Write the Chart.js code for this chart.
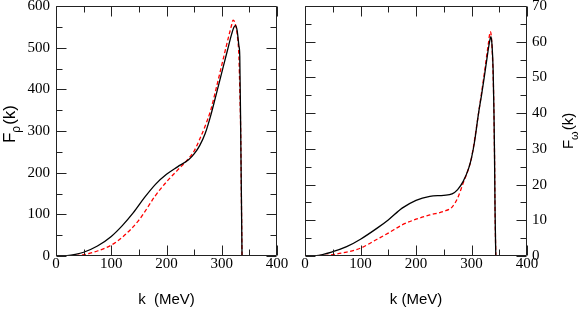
<!DOCTYPE html>
<html>
<head>
<meta charset="utf-8">
<script src="https://cdn.jsdelivr.net/npm/chart.js@4"></script>
<style>
  html, body { margin: 0; padding: 0; background: #fff; }
  #wrap { position: relative; width: 581px; height: 310px; overflow: hidden; }
  #cL { position: absolute; left: 0; top: 0; }
  #cR { position: absolute; left: 290px; top: 0; }
</style>
</head>
<body>
<div id="wrap">
  <canvas id="cL" width="290" height="310"></canvas>
  <canvas id="cR" width="291" height="310"></canvas>
</div>
<script>
// ---------- data ----------
const kRhoSolid   = [0, 20, 35, 50, 75, 100, 120, 140, 160, 180, 200, 220, 240, 250, 260, 270, 280, 290, 300, 310, 318, 322, 325, 328, 331, 332.6, 334.4, 335.5, 336.7];
const rhoSolid    = [0, 1, 4, 9, 24, 47, 73, 104, 140, 172, 196, 214, 231, 245, 265, 294, 337, 388, 440, 492, 533, 549, 553, 540, 505, 480, 288, 150, 0];

const kRhoDashed  = [0, 20, 35, 50, 75, 100, 120, 150, 180, 200, 220, 240, 250, 260, 270, 280, 290, 300, 309, 315, 318, 320.5, 323, 326, 329, 331, 333, 334.4, 335.5, 336.7];
const rhoDashed   = [0, 0.3, 1.2, 3, 12, 26, 45, 86, 145, 178, 206, 234, 252, 280, 312, 350, 403, 458, 508, 540, 555, 566, 563, 548, 520, 480, 380, 288, 150, 0];

const kOmegaSolid  = [0, 20, 50, 75, 100, 130, 150, 175, 200, 225, 250, 265, 275, 285, 295, 300, 305, 313, 318, 323, 328, 332, 335, 337, 339, 340.5, 341.5, 342.5, 343.8];
const omegaSolid   = [0, 0.1, 1.2, 2.6, 4.7, 7.8, 10.1, 13.4, 15.6, 16.7, 17.0, 17.4, 18.6, 20.9, 24.6, 27.5, 31.5, 40.3, 45, 50.1, 55.5, 59.5, 61.4, 59, 52, 40, 28, 12, 0];

const kOmegaDashed = [0, 20, 50, 75, 100, 130, 150, 175, 200, 225, 250, 265, 275, 285, 295, 300, 313, 323, 330, 334, 336, 338, 340, 341.5, 342.5, 343.8];
const omegaDashed  = [0, 0.05, 0.4, 1.1, 2.2, 4.7, 6.4, 8.7, 10.3, 11.5, 12.5, 13.7, 16.2, 20.4, 24.6, 27.5, 40.3, 51, 59, 62.8, 61, 55, 44, 28, 12, 0];

const kTicks     = [0, 100, 200, 300, 400];
const rhoTicks   = [0, 100, 200, 300, 400, 500, 600];
const omegaTicks = [0, 10, 20, 30, 40, 50, 60, 70];

const xTitleLeft  = 'k  (MeV)';
const xTitleRight = 'k (MeV)';
const yTitleLeft  = ['F', 'ρ', '(k)'];
const yTitleRight = ['F', 'ω', '(k)'];

// ---------- helpers ----------
const pts = (xs, ys) => xs.map((x, i) => ({x: x, y: ys[i]}));
const mids = (arr) => arr.slice(0, -1).map((v, i) => (v + arr[i + 1]) / 2);

const tickFont  = {family: '"Liberation Serif", "Times New Roman", serif', size: 15, lineHeight: 1};
const titleFont = {family: '"Liberation Sans", Arial, sans-serif', size: 15};

const frameTicks = {
  id: 'frameTicks',
  afterDatasetsDraw(chart, args, opts) {
    const {ctx, chartArea: a} = chart;
    const xs = chart.scales.x, ys = chart.scales.y;
    ctx.save();
    ctx.strokeStyle = '#222';
    ctx.lineWidth = 1;
    ctx.beginPath();
    const L = Math.round(a.left) + 0.5, R = Math.round(a.right) - 0.5;
    const T = Math.round(a.top) + 0.5, B = Math.round(a.bottom) - 0.5;
    ctx.rect(L, T, R - L, B - T);
    const big = 10, small = 6;
    const xm = opts.xMajor, xn = mids(opts.xMajor);
    const ym = opts.yMajor, yn = mids(opts.yMajor);
    xm.forEach(v => { const p = Math.round(xs.getPixelForValue(v)) + 0.5;
      ctx.moveTo(p, B); ctx.lineTo(p, B - big); ctx.moveTo(p, T); ctx.lineTo(p, T + big); });
    xn.forEach(v => { const p = Math.round(xs.getPixelForValue(v)) + 0.5;
      ctx.moveTo(p, B); ctx.lineTo(p, B - small); ctx.moveTo(p, T); ctx.lineTo(p, T + small); });
    ym.forEach(v => { const p = Math.round(ys.getPixelForValue(v)) + 0.5;
      ctx.moveTo(L, p); ctx.lineTo(L + big, p); ctx.moveTo(R, p); ctx.lineTo(R - big, p); });
    yn.forEach(v => { const p = Math.round(ys.getPixelForValue(v)) + 0.5;
      ctx.moveTo(L, p); ctx.lineTo(L + small, p); ctx.moveTo(R, p); ctx.lineTo(R - small, p); });
    ctx.stroke();

    // y-axis title with subscript
    const [main, sub, tail] = opts.yTitle;
    const size = opts.yTitleSize;
    const cx = opts.yTitleSide === 'left' ? a.left - opts.yTitleOffset : a.right + opts.yTitleOffset;
    const cy = (a.top + a.bottom) / 2 + opts.yTitleShift;
    const big1 = `${size}px "Liberation Sans", Arial, sans-serif`;
    const sm1 = `${Math.round(size * 0.72)}px "Liberation Sans", Arial, sans-serif`;
    ctx.font = big1; const w1 = ctx.measureText(main).width;
    ctx.font = sm1;  const w2 = ctx.measureText(sub).width;
    ctx.font = big1; const w3 = ctx.measureText(tail).width;
    const total = w1 + w2 + w3 + 1;
    ctx.translate(cx, cy);
    ctx.rotate(-Math.PI / 2);
    ctx.fillStyle = '#000';
    ctx.textBaseline = 'alphabetic';
    ctx.textAlign = 'left';
    const b = size * 0.36;
    let x0 = -total / 2;
    ctx.font = big1; ctx.fillText(main, x0, b); x0 += w1;
    ctx.font = sm1;  ctx.fillText(sub, x0, b + size * 0.28); x0 += w2 + 1;
    ctx.font = big1; ctx.fillText(tail, x0, b);
    ctx.restore();
  }
};

function makeChart(id, cfg) {
  const isLeft = cfg.side === 'left';
  return new Chart(document.getElementById(id), {
    type: 'line',
    data: {
      datasets: [
        { data: pts(cfg.kSolid, cfg.solid), borderColor: '#000', borderWidth: 1.3,
          pointRadius: 0, fill: false, cubicInterpolationMode: 'monotone' },
        { data: pts(cfg.kDashed, cfg.dashed), borderColor: '#ff0000', borderWidth: 1.3,
          borderDash: [4, 2.5], pointRadius: 0, fill: false, cubicInterpolationMode: 'monotone' }
      ]
    },
    options: {
      responsive: false,
      animation: false,
      devicePixelRatio: 1,
      layout: { padding: isLeft ? {left: 0, right: 13, top: 6, bottom: 0} : {left: 15, right: 0, top: 6, bottom: 0} },
      plugins: {
        legend: { display: false },
        tooltip: { enabled: false },
        frameTicks: {
          xMajor: kTicks, yMajor: cfg.yTicks, yTitle: cfg.yTitle, yTitleSide: cfg.side,
          yTitleSize: cfg.yTitleSize, yTitleOffset: cfg.yTitleOffset, yTitleShift: cfg.yTitleShift
        }
      },
      scales: {
        x: {
          type: 'linear', position: 'bottom',
          min: kTicks[0], max: kTicks[kTicks.length - 1],
          grid: { display: false, drawTicks: false },
          border: { display: false },
          afterBuildTicks: (s) => { s.ticks = kTicks.map(v => ({value: v})); },
          ticks: { font: tickFont, color: '#000', padding: 1, maxRotation: 0,
                   callback: (v) => String(v) },
          title: { display: true, text: cfg.xTitle, font: titleFont, color: '#000',
                   padding: {top: 0, bottom: 1} },
          afterFit: (s) => { s.height = 54; s.paddingLeft = 0; s.paddingRight = 0; }
        },
        y: {
          type: 'linear', position: isLeft ? 'left' : 'right',
          min: cfg.yTicks[0], max: cfg.yTicks[cfg.yTicks.length - 1],
          grid: { display: false, drawTicks: false },
          border: { display: false },
          afterBuildTicks: (s) => { s.ticks = cfg.yTicks.map(v => ({value: v})); },
          ticks: { font: tickFont, color: '#000', padding: isLeft ? 6 : 5,
                   callback: (v) => String(v) },
          afterFit: (s) => { s.width = isLeft ? 56 : 54; s.paddingTop = 0; s.paddingBottom = 0; }
        }
      }
    },
    plugins: [frameTicks]
  });
}

makeChart('cL', {
  side: 'left', kSolid: kRhoSolid, solid: rhoSolid, kDashed: kRhoDashed, dashed: rhoDashed,
  yTicks: rhoTicks, xTitle: xTitleLeft, yTitle: yTitleLeft,
  yTitleSize: 17, yTitleOffset: 47, yTitleShift: -7
});
makeChart('cR', {
  side: 'right', kSolid: kOmegaSolid, solid: omegaSolid, kDashed: kOmegaDashed, dashed: omegaDashed,
  yTitleSize: 15, yTicks: omegaTicks, xTitle: xTitleRight, yTitle: yTitleRight,
  yTitleOffset: 41, yTitleShift: 0
});
</script>
</body>
</html>
